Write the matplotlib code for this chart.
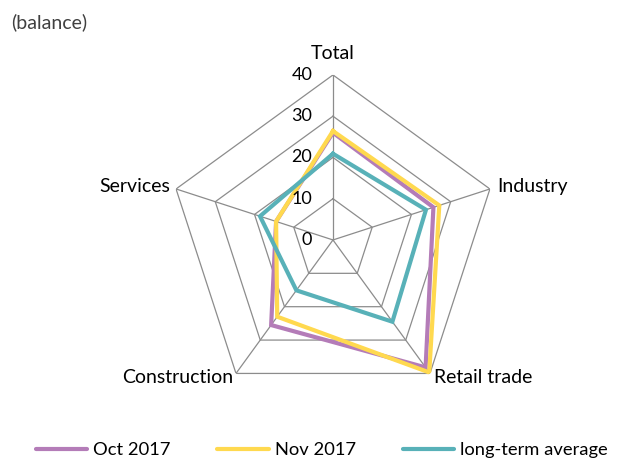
import numpy as np
import matplotlib
matplotlib.use("Agg")
import matplotlib.pyplot as plt
from matplotlib.lines import Line2D

plt.rcParams['font.family'] = ['Lato', 'DejaVu Sans']

categories = ["Total", "Industry", "Retail trade", "Construction", "Services"]
oct_2017 = [26.0, 25.6, 38.2, 25.5, 14.5]
nov_2017 = [26.4, 27.1, 39.7, 23.0, 14.5]
long_term = [20.9, 23.7, 24.5, 15.1, 18.6]
ring_values = [10, 20, 30, 40]
tick_labels = ["0", "10", "20", "30", "40"]
series_names = ["Oct 2017", "Nov 2017", "long-term average"]
colors = ["#B47CB8", "#FFD94F", "#58B1B8"]

fig = plt.figure(figsize=(6.18, 4.61), dpi=100)
ax = fig.add_axes([0.2718, 0.1215, 0.534, 0.716], projection='polar')
ax.set_theta_offset(np.pi / 2)
ax.set_theta_direction(-1)
ax.set_ylim(0, 40)
ax.axis('off')

n = len(categories)
theta = np.arange(n) * 2 * np.pi / n
theta_closed = np.append(theta, theta[0])

grid_color = "#8C8C8C"
for rv in ring_values:
    ax.plot(theta_closed, [rv] * (n + 1), color=grid_color, lw=0.9, zorder=1)
for t in theta:
    ax.plot([t, t], [0, 40], color=grid_color, lw=0.9, zorder=1)

for vals, c in zip([oct_2017, nov_2017, long_term], colors):
    v = np.append(vals, vals[0])
    ax.plot(theta_closed, v, color=c, lw=3.0, zorder=3, solid_joinstyle='miter')

for i, lab in enumerate(tick_labels):
    r = i * 10
    ax.annotate(lab, xy=(0, r), xytext=(-15, 0), textcoords='offset points',
                ha='right', va='center', fontsize=13, color='black', zorder=5)

offsets = [(0, 9, 'center', 'bottom'), (5, 2, 'left', 'center'),
           (3, -3, 'left', 'center'), (-2, -3, 'right', 'center'),
           (-4, 2, 'right', 'center')]
for t, lab, (dx, dy, ha, va) in zip(theta, categories, offsets):
    ax.annotate(lab, xy=(t, 40), xytext=(dx, dy), textcoords='offset points',
                ha=ha, va=va, fontsize=14, color='black')

fig.text(0.018, 0.952, "(balance)", fontsize=14, color='#404040', ha='left', va='center')

handles = [Line2D([0], [0], color=c, lw=3.0, solid_capstyle='round') for c in colors]
fig.legend(handles, series_names, loc='center left', bbox_to_anchor=(35.5 / 618, 1 - 450 / 461),
           ncol=3, frameon=False, fontsize=13.2, handlelength=2.8, handletextpad=0.33,
           columnspacing=2.56, borderaxespad=0, borderpad=0)

fig.savefig("out.png", dpi=100)
